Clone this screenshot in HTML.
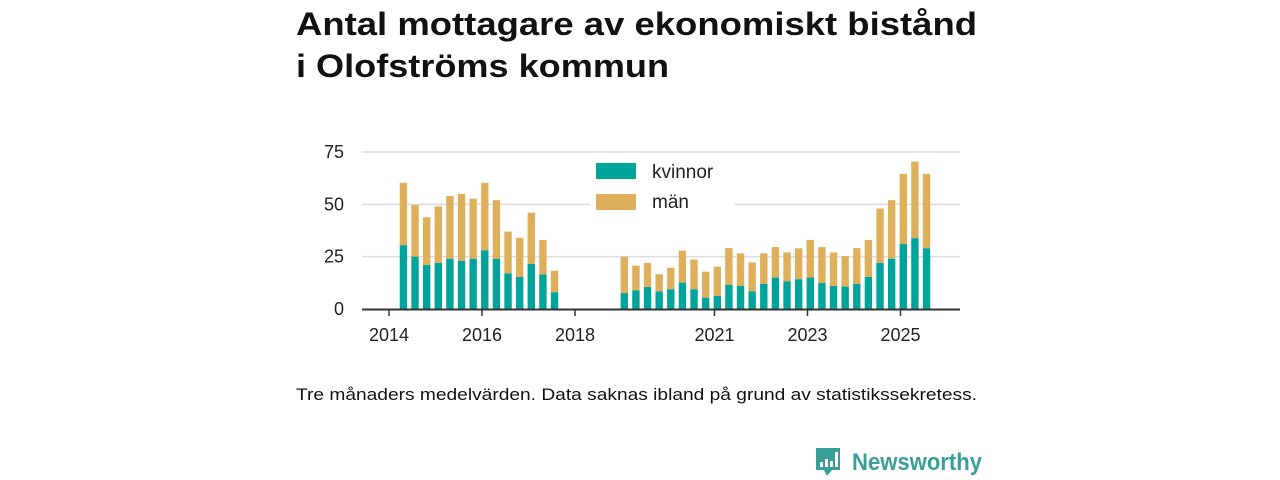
<!DOCTYPE html>
<html><head><meta charset="utf-8"><style>
html,body{margin:0;padding:0;background:#fff;}
svg{display:block;font-family:"Liberation Sans","DejaVu Sans",sans-serif;}
</style></head><body>
<svg id="chart" width="1280" height="480" viewBox="0 0 1280 480">
<text x="296" y="35" font-size="32" font-weight="bold" fill="#111" textLength="681" lengthAdjust="spacingAndGlyphs">Antal mottagare av ekonomiskt bistånd</text>
<text x="296" y="77" font-size="32" font-weight="bold" fill="#111" textLength="373" lengthAdjust="spacingAndGlyphs">i Olofströms kommun</text>
<g id="grid"></g>
<g id="yticks"></g>
<g id="bars"></g>
<g id="xaxis"></g>
<g>
<rect x="590" y="155" width="145" height="58" fill="#fff"/>
<rect x="596" y="163" width="40" height="16" fill="#00a49a"/>
<text x="652" y="178" font-size="19" fill="#222">kvinnor</text>
<rect x="596" y="194" width="40" height="16" fill="#dfb05c"/>
<text x="652" y="208" font-size="19" fill="#222">män</text>
</g>
<text x="296" y="400" font-size="17" fill="#111" textLength="681" lengthAdjust="spacingAndGlyphs">Tre månaders medelvärden. Data saknas ibland på grund av statistikssekretess.</text>
<g>
<path d="M816 448 h24 v22 h-8 l-5 6 l-3 -6 h-8 z" fill="#3a9e98"/>
<rect x="820" y="462" width="3" height="5" fill="#fff"/><rect x="825" y="459" width="3" height="8" fill="#fff"/><rect x="830" y="461" width="3" height="6" fill="#fff"/><rect x="835" y="452" width="3" height="15" fill="#fff"/>
<text x="852" y="470" font-size="24" font-weight="bold" fill="#3a9e98" textLength="130" lengthAdjust="spacingAndGlyphs">Newsworthy</text>
</g>
</svg>
<script>
const quarters1 = [0,1,2,3,4,5,6,7,8,9,10,11,12,13];
const kvinnor1 = [30.5,25,21,22,24,23,24,28,24,17,15.3,21.5,16.5,8];
const total1 = [60.3,49.7,43.8,49,54,55,52.7,60.3,52,37,34,46,33,18.3];
const quarters2 = [19,20,21,22,23,24,25,26,27,28,29,30,31,32,33,34,35,36,37,38,39,40,41,42,43,44,45];
const kvinnor2 = [7.6,8.9,10.5,8.4,9.4,12.6,9.4,5.4,6.2,11.5,11,8.4,12,15,13.2,14.2,15,12.4,11,10.7,12,15.3,22,24,31,33.8,29];
const total2 = [25,20.7,22,16.6,19.7,27.9,23.6,17.8,20.2,29.1,26.6,22.3,26.6,29.6,27,29,33,29.6,27,25.3,29.1,33,48,52,64.5,70.4,64.6];
const yTicks = [0,25,50,75];
const xTicks = [2014,2016,2018,2021,2023,2025];

const NS="http://www.w3.org/2000/svg";
const y = v => 309 - v*(157/75);
const x = yr => 389 + (yr-2014)*46.5;
function mk(tag, attrs, parent){const e=document.createElementNS(NS,tag);for(const k in attrs)e.setAttribute(k,attrs[k]);parent.appendChild(e);return e;}
const grid=document.getElementById('grid'), yt=document.getElementById('yticks'), bars=document.getElementById('bars'), xa=document.getElementById('xaxis');
yTicks.forEach(t=>{
  if(t>0){const g=mk('line',{x1:362,x2:960,y1:y(t),y2:y(t),stroke:'#ddd','stroke-width':1.5},grid);
  
  }
  const tx=mk('text',{x:344,y:y(t)+6,'font-size':18,fill:'#222','text-anchor':'end'},yt);tx.textContent=t;
  
  
});
function drawGroup(qs,kv,tot){
  qs.forEach((q,i)=>{
    const cx=x(2014+q/4+0.31), w=7.4;
    const m=mk('rect',{x:cx-w/2,y:y(tot[i]),width:w,height:y(kv[i])-y(tot[i]),fill:'#dfb05c'},bars);
    
    
    const k=mk('rect',{x:cx-w/2,y:y(kv[i]),width:w,height:y(0)-y(kv[i]),fill:'#00a49a'},bars);
    
    
  });
}
drawGroup(quarters1,kvinnor1,total1);
drawGroup(quarters2,kvinnor2,total2);
const ax=mk('line',{x1:362,x2:960,y1:309.5,y2:309.5,stroke:'#333','stroke-width':2},xa);


xTicks.forEach(t=>{
  mk('line',{x1:x(t),x2:x(t),y1:309,y2:316,stroke:'#333','stroke-width':1.5},xa);
  const tx=mk('text',{x:x(t),y:341,'font-size':18,fill:'#222','text-anchor':'middle'},xa);tx.textContent=t;
  
  
});
</script>
</body></html>
